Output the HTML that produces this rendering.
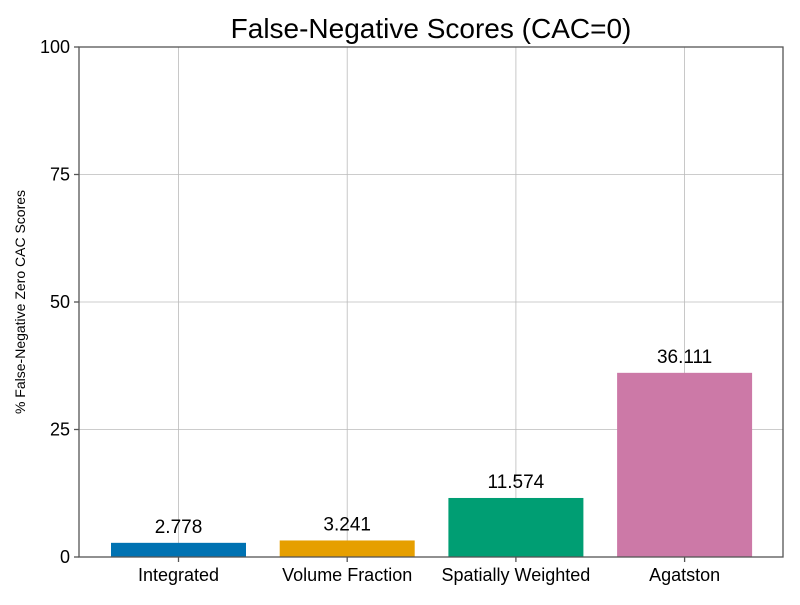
<!DOCTYPE html>
<html><head><meta charset="utf-8"><style>
body{margin:0;background:#fff}
text{font-family:"Liberation Sans",sans-serif;fill:#000}
</style></head><body>
<svg id="c" width="800" height="600" xmlns="http://www.w3.org/2000/svg">
<rect width="800" height="600" fill="#fff"/>
<text x="431" y="38" font-size="28" text-anchor="middle">False-Negative Scores (CAC=0)</text>
<text transform="translate(25,302) rotate(-90)" font-size="14" text-anchor="middle">% False-Negative Zero CAC Scores</text>
<g id="grid"></g><g id="bars"></g><g id="axes"></g>
</svg>
<script>
const categories=["Integrated","Volume Fraction","Spatially Weighted","Agatston"];
const values=[2.778,3.241,11.574,36.111];
const labels=["2.778","3.241","11.574","36.111"];
const colors=["#0072b2","#e69f00","#009e73","#cc79a7"];
const yTicks=[0,25,50,75,100];
const NS="http://www.w3.org/2000/svg";
const L=79,R=783,T=47,B=557;
const y=v=>B-(v/100)*(B-T);
const x=i=>178.5+i*168.7;
const bw=135;
function mk(tag,attrs,parent){const e=document.createElementNS(NS,tag);for(const k in attrs)e.setAttribute(k,attrs[k]);document.getElementById(parent).appendChild(e);return e;}
yTicks.forEach(t=>{
 const g=mk('line',{x1:L,x2:R,y1:y(t),y2:y(t),stroke:'#bbb','stroke-width':0.8},'grid');
 
 
 const tk=mk('line',{x1:L-5,x2:L,y1:y(t),y2:y(t),stroke:'#555','stroke-width':1.3},'axes');
 
 
 const tx=mk('text',{x:L-9,y:y(t)+6,'font-size':18,'text-anchor':'end'},'axes');
 tx.textContent=t;
 
 
});
categories.forEach((c,i)=>{
 const g=mk('line',{x1:x(i),x2:x(i),y1:T,y2:B,stroke:'#bbb','stroke-width':0.8},'grid');
 
 
 const b=mk('rect',{x:x(i)-bw/2,y:y(values[i]),width:bw,height:B-y(values[i]),fill:colors[i]},'bars');
 
 
 const v=mk('text',{x:x(i),y:y(values[i])-10,'font-size':19,'text-anchor':'middle'},'bars');
 v.textContent=labels[i];
 
 
 const tk=mk('line',{x1:x(i),x2:x(i),y1:B,y2:B+5,stroke:'#555','stroke-width':1.3},'axes');
 
 
 const tx=mk('text',{x:x(i),y:B+24,'font-size':18,'text-anchor':'middle'},'axes');
 tx.textContent=c;
 
 
});
const fr=mk('rect',{x:L,y:T,width:R-L,height:B-T,fill:'none',stroke:'#555','stroke-width':1.3},'axes');


</script>
</body></html>
